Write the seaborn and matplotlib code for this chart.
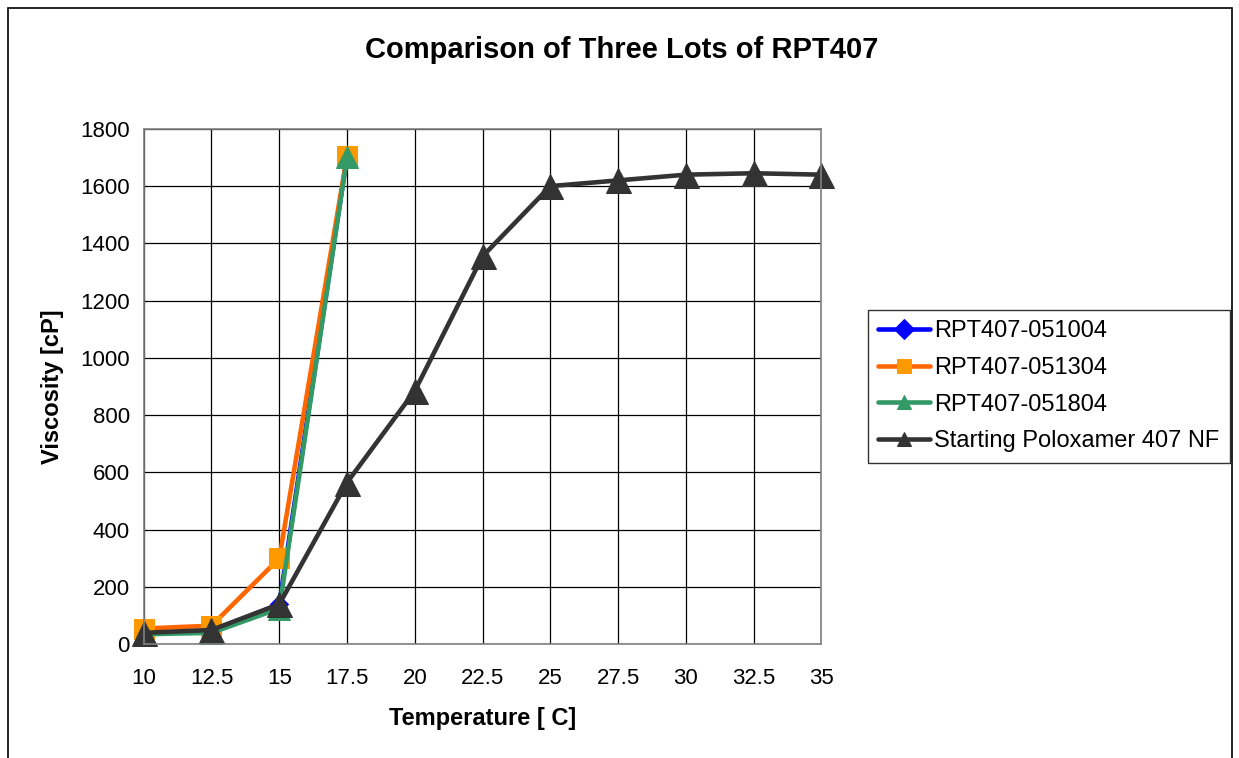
import pandas as pd
import matplotlib
matplotlib.use('Agg')
import matplotlib.pyplot as plt
import seaborn as sns
from matplotlib.patches import Rectangle

temps_lots = [10, 12.5, 15, 17.5]
lot_051004 = [40, 45, 140, 1705]
lot_051304 = [55, 65, 300, 1705]
lot_051804 = [35, 40, 125, 1700]

temps_start = [10, 12.5, 15, 17.5, 20, 22.5, 25, 27.5, 30, 32.5, 35]
start_poloxamer = [40, 50, 140, 565, 885, 1355, 1600, 1620, 1640, 1645, 1640]

x_ticks = [10, 12.5, 15, 17.5, 20, 22.5, 25, 27.5, 30, 32.5, 35]
x_tick_labels = ['10', '12.5', '15', '17.5', '20', '22.5', '25', '27.5', '30', '32.5', '35']

sns.set_style('white')
plt.rcParams['font.family'] = ['Liberation Sans', 'DejaVu Sans']
plt.rcParams['text.color'] = 'black'
plt.rcParams['axes.labelcolor'] = 'black'

fig = plt.figure(figsize=(12.39, 7.58), dpi=100)
ax = fig.add_axes([0.116, 0.150, 0.547, 0.680])

series = [
    ('RPT407-051004', temps_lots, lot_051004, '#0000FF', '#0000FF', 'D', 9),
    ('RPT407-051304', temps_lots, lot_051304, '#FF6600', '#FF9900', 's', 15),
    ('RPT407-051804', temps_lots, lot_051804, '#339966', '#339966', '^', 16),
    ('Starting Poloxamer 407 NF', temps_start, start_poloxamer, '#333333', '#333333', '^', 18),
]

for name, xs, ys, lc, mc, mk, ms in series:
    df = pd.DataFrame({'x': xs, 'y': ys})
    sns.lineplot(data=df, x='x', y='y', ax=ax, color=lc, linewidth=3.3,
                 marker=mk, markersize=ms, markerfacecolor=mc,
                 markeredgecolor=mc, label=name)

ax.set_xticks(x_ticks)
ax.set_xticklabels(x_tick_labels)
ax.set_xlim(10, 35)
ax.set_ylim(0, 1800)
ax.set_yticks(range(0, 1801, 200))
ax.grid(True, color='#000000', linewidth=0.9)
for s in ax.spines.values():
    s.set_color('#808080')
    s.set_linewidth(1.2)
ax.tick_params(axis='both', labelsize=16, length=6, color='#808080',
               labelcolor='black', direction='out')
ax.tick_params(axis='x', pad=11)
ax.tick_params(axis='y', pad=4)
for line in ax.lines:
    line.set_clip_on(False)

ax.set_xlabel('Temperature [ C]', fontsize=17, fontweight='bold', labelpad=13)
ax.set_ylabel('Viscosity [cP]', fontsize=17, fontweight='bold', labelpad=12)
fig.text(0.502, 0.934, 'Comparison of Three Lots of RPT407', ha='center', va='center',
         fontsize=21, fontweight='bold')

leg = ax.legend(loc='upper left', bbox_to_anchor=(1.068, 0.649), fontsize=17,
                frameon=True, fancybox=False, edgecolor='#000000', borderpad=0.45,
                labelspacing=0.62, handlelength=2.2, handletextpad=0.15,
                borderaxespad=0)
leg.get_frame().set_linewidth(1.0)
for h in leg.legend_handles:
    h.set_markersize(10)

fig.patches.append(Rectangle((8 / 1239, -0.02), 1224 / 1239, 1.02 - 8 / 758,
                             transform=fig.transFigure, fill=False,
                             edgecolor='#000000', linewidth=1.2))

fig.savefig('out.png', dpi=100)
